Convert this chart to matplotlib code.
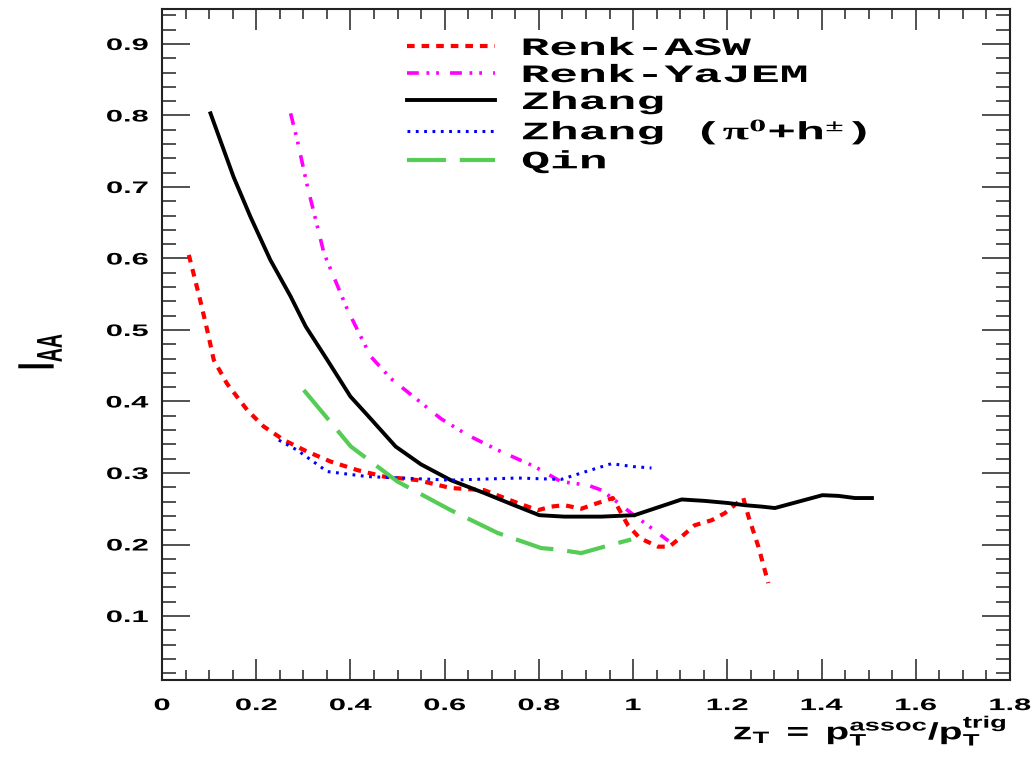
import matplotlib
matplotlib.use('Agg')
import matplotlib.pyplot as plt
from matplotlib.patheffects import AbstractPathEffect
from matplotlib.transforms import Affine2D
from matplotlib.ticker import MultipleLocator

# data
asw_x = [0.057, 0.067, 0.081, 0.096, 0.110, 0.138, 0.181, 0.216, 0.259, 0.308, 0.358, 0.415,
         0.471, 0.543, 0.613, 0.684, 0.755, 0.798, 0.826, 0.854, 0.89, 0.925, 0.957, 0.989,
         1.014, 1.053, 1.077, 1.103, 1.131, 1.167, 1.195, 1.234, 1.245, 1.266, 1.287]
asw_y = [0.605, 0.579, 0.542, 0.50, 0.458, 0.425, 0.388, 0.365, 0.346, 0.330, 0.316, 0.304,
         0.295, 0.290, 0.279, 0.276, 0.258, 0.248, 0.253, 0.255, 0.25, 0.258, 0.265, 0.227,
         0.209, 0.197, 0.197, 0.211, 0.227, 0.234, 0.244, 0.265, 0.239, 0.197, 0.146]

yajem_x = [0.273, 0.287, 0.309, 0.323, 0.344, 0.394, 0.443, 0.486, 0.543, 0.592, 0.649,
           0.713, 0.791, 0.847, 0.904, 0.933, 0.961, 0.996, 1.039, 1.075]
yajem_y = [0.803, 0.766, 0.70, 0.663, 0.607, 0.528, 0.463, 0.432, 0.402, 0.376, 0.353,
           0.332, 0.309, 0.288, 0.283, 0.276, 0.262, 0.244, 0.223, 0.205]

zhang_x = [0.103, 0.152, 0.188, 0.23, 0.273, 0.305, 0.351, 0.40, 0.436, 0.496, 0.55, 0.613,
           0.684, 0.755, 0.801, 0.854, 0.933, 1.003, 1.103, 1.152, 1.202, 1.237, 1.273, 1.301,
           1.402, 1.436, 1.471, 1.507]
zhang_y = [0.803, 0.714, 0.658, 0.598, 0.547, 0.505, 0.458, 0.407, 0.381, 0.337, 0.312, 0.29,
           0.272, 0.253, 0.241, 0.239, 0.239, 0.241, 0.263, 0.261, 0.258, 0.255, 0.253, 0.251,
           0.269, 0.268, 0.265, 0.265]

zpi_x = [0.248, 0.287, 0.351, 0.436, 0.507, 0.613, 0.755, 0.847, 0.9, 0.954, 1.0, 1.039]
zpi_y = [0.346, 0.332, 0.302, 0.295, 0.293, 0.29, 0.293, 0.291, 0.302, 0.313, 0.309, 0.307]

qin_x = [0.301, 0.401, 0.50, 0.613, 0.713, 0.805, 0.84, 0.89, 0.961, 0.996]
qin_y = [0.416, 0.337, 0.288, 0.248, 0.216, 0.195, 0.193, 0.188, 0.201, 0.207]

labels = ['Renk-ASW', 'Renk-YaJEM', 'Zhang', r'Zhang ($\mathrm{\pi^{0}}$+h$^{\pm}$)', 'Qin']

xtick_vals = [0, 0.2, 0.4, 0.6, 0.8, 1.0, 1.2, 1.4, 1.6, 1.8]
xtick_labels = ['0', '0.2', '0.4', '0.6', '0.8', '1', '1.2', '1.4', '1.6', '1.8']
ytick_vals = [0.1, 0.2, 0.3, 0.4, 0.5, 0.6, 0.7, 0.8, 0.9]
ytick_labels = ['0.1', '0.2', '0.3', '0.4', '0.5', '0.6', '0.7', '0.8', '0.9']


class StretchX(AbstractPathEffect):
    # the reference picture is stretched sideways, so widen the glyphs the same way
    def __init__(self, sx=1.85, anchor='center'):
        super().__init__()
        self.sx = sx
        self.anchor = anchor

    def draw_path(self, renderer, gc, tpath, affine, rgbFace=None):
        ext = tpath.transformed(affine).get_extents()
        if self.anchor == 'left':
            cx = ext.x0
        elif self.anchor == 'right':
            cx = ext.x1
        else:
            cx = 0.5 * (ext.x0 + ext.x1)
        tr = affine + Affine2D().translate(-cx, 0).scale(self.sx, 1).translate(cx, 0)
        renderer.draw_path(gc, tpath, tr, rgbFace)


plt.rcParams['font.family'] = 'Liberation Sans'
plt.rcParams['font.weight'] = 'bold'
plt.rcParams['mathtext.fontset'] = 'custom'
plt.rcParams['mathtext.rm'] = 'Liberation Serif'
plt.rcParams['mathtext.it'] = 'Liberation Serif:italic'
plt.rcParams['mathtext.bf'] = 'Liberation Sans:bold'
plt.rcParams['lines.scale_dashes'] = False

fig = plt.figure(figsize=(10.31, 7.62), dpi=100)
ax = fig.add_axes([0.1571, 0.1076, 0.8225, 0.8802])

ax.plot(asw_x, asw_y, color='#ff0000', lw=3.0, dashes=(5.5, 5), label=labels[0])
ax.plot(yajem_x, yajem_y, color='#ff00ff', lw=2.6, dashes=(8.5, 5.5, 2, 5, 2, 8), label=labels[1])
ax.plot(zhang_x, zhang_y, color='black', lw=2.8, label=labels[2])
ax.plot(zpi_x, zpi_y, color='#0000ff', lw=2.2, dashes=(2, 4), label=labels[3])
ax.plot(qin_x, qin_y, color='#55cc55', lw=3.0, dashes=(28, 10), label=labels[4])

ax.set_xlim(0, 1.8)
ax.set_ylim(0.0105, 0.9485)
ax.set_xticks(xtick_vals, xtick_labels)
ax.set_yticks(ytick_vals, ytick_labels)
ax.xaxis.set_minor_locator(MultipleLocator(0.05))
ax.yaxis.set_minor_locator(MultipleLocator(0.02))
ax.tick_params(which='both', direction='in', top=True, right=True, width=1.1,
               color='#222222', labelsize=12)
ax.tick_params(axis='x', which='major', length=15, pad=13)
ax.tick_params(axis='x', which='minor', length=7.5)
ax.tick_params(axis='y', which='major', length=20, pad=10)
ax.tick_params(axis='y', which='minor', length=10)
for sp in ax.spines.values():
    sp.set_linewidth(1.5)
    sp.set_color('#222222')

for t in ax.get_xticklabels():
    t.set_path_effects([StretchX(anchor='center')])
for t in ax.get_yticklabels():
    t.set_path_effects([StretchX(anchor='right')])

ax.set_xlabel(r'$\mathbf{z_{T}\ =\ p_{T}^{assoc}/p_{T}^{trig}}$', fontsize=17, ha='right',
              path_effects=[StretchX(sx=1.65, anchor='right')])
ax.xaxis.set_label_coords(0.9965, -0.049)
ax.set_ylabel(r'$\mathbf{I_{AA}}$', fontsize=20,
              path_effects=[StretchX(anchor='right')])
ax.yaxis.set_label_coords(-0.1156, 0.49)

leg = ax.legend(loc='upper left', bbox_to_anchor=(407 / 1031, 1 - 36 / 762),
                bbox_transform=fig.transFigure, frameon=False, borderpad=0,
                borderaxespad=0, handlelength=3.5, handletextpad=1.1, labelspacing=0.12,
                prop={'family': 'Liberation Mono', 'weight': 'bold', 'size': 18})
for t in leg.get_texts():
    t.set_path_effects([StretchX(sx=1.92, anchor='left')])

fig.savefig('out.png', dpi=100)
